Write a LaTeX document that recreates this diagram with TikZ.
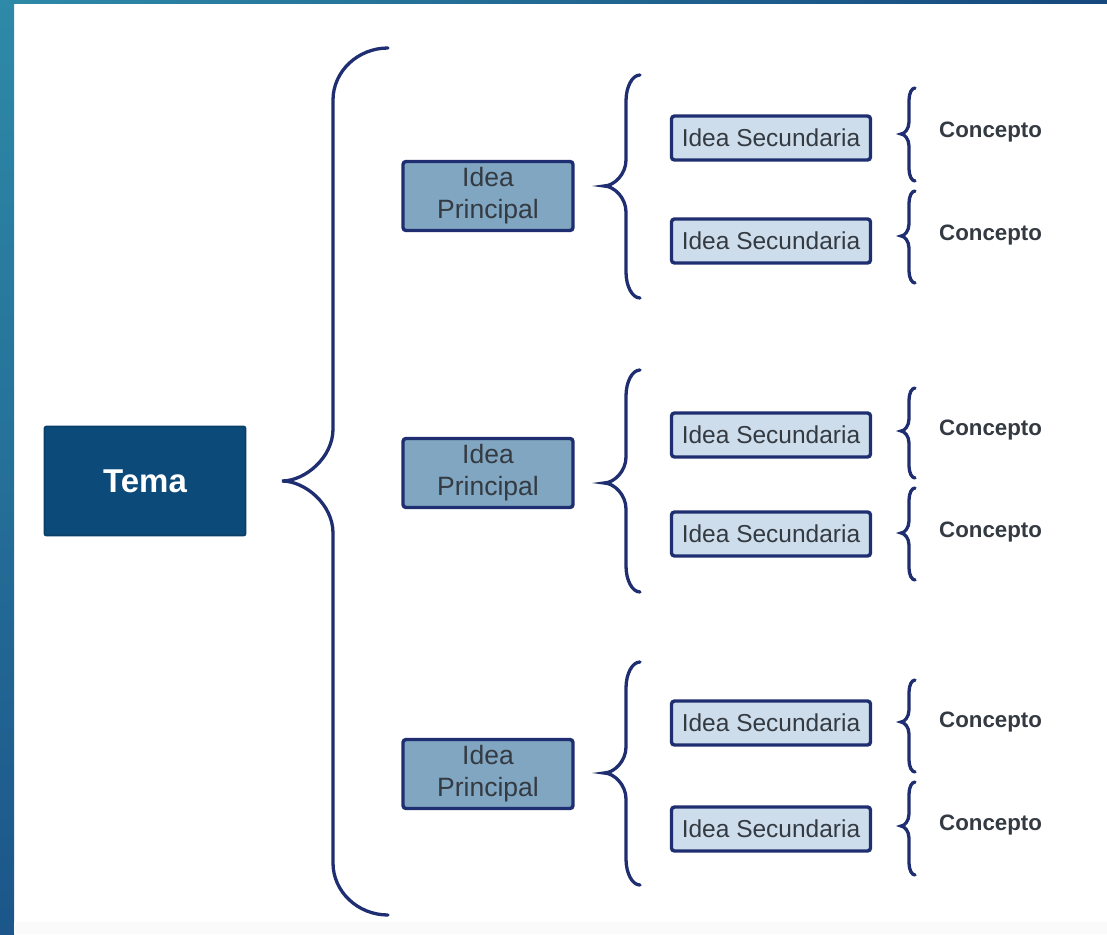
\documentclass[tikz,border=0pt]{standalone}
\usepackage{fontspec}
\setmainfont{Liberation Sans}
\usetikzlibrary{positioning}

\definecolor{marino}{RGB}{30,46,112}
\definecolor{temafill}{RGB}{12,74,122}
\definecolor{ipfill}{RGB}{128,166,193}
\definecolor{isfill}{RGB}{206,221,235}
\definecolor{texto}{RGB}{52,58,66}
\definecolor{turquesa}{RGB}{46,138,168}
\definecolor{azulmarco}{RGB}{28,86,138}
\definecolor{azulosc}{RGB}{22,72,126}

% curly brace: x ends, x vertical, x tip, y top, y tip, y bottom, reach of the curves
\newcommand{\llave}[7]{%
  \draw[llave] (#1,#4) .. controls ({#2+0.45*(#1-#2)},#4) and (#2,{#4+0.45*#7}) .. (#2,{#4+#7})
    -- (#2,{#5-#7}) .. controls (#2,{#5-0.45*#7}) and ({#3+0.45*(#2-#3)},#5) .. (#3,#5)
    .. controls ({#3+0.45*(#2-#3)},#5) and (#2,{#5+0.45*#7}) .. (#2,{#5+#7})
    -- (#2,{#6-#7}) .. controls (#2,{#6-0.45*#7}) and ({#2+0.45*(#1-#2)},#6) .. (#1,#6);}

\begin{document}
\begin{tikzpicture}[x=1pt,y=-1pt]
                % Styles
                \tikzset{
                    tema/.style={draw=temafill!85!black, line width=1.8pt, fill=temafill, rounded corners=2pt,
                        minimum width=201, minimum height=109, text=white, font=\fontsize{33}{38}\selectfont\bfseries},
                    principal/.style={draw=marino, line width=3.4pt, fill=ipfill, rounded corners=3pt,
                        minimum width=170, minimum height=69, align=center, text=texto,
                        font=\fontsize{26.5}{32}\selectfont},
                    secundaria/.style={draw=marino, line width=3.4pt, fill=isfill, rounded corners=3pt,
                        minimum width=199, minimum height=44, text=texto, font=\fontsize{24.5}{28}\selectfont},
                    concepto/.style={anchor=west, inner sep=0pt, text=texto, font=\fontsize{22.3}{26}\selectfont\bfseries},
                    llave/.style={draw=marino, line width=3.3pt, line cap=round},
                }

                % Frame
                \useasboundingbox (0,0) rectangle (1107,934);
                \shade[top color=turquesa, bottom color=azulmarco] (0,0) rectangle (14,934);
                \shade[left color=turquesa, right color=azulosc] (0,0) rectangle (1107,4);
                \fill[white!96!gray] (14,922) rectangle (1107,934);

                % Topic
                \node[tema] (tema) at (145,481) {Tema};

                % Main ideas
                \node[principal] (ipA) at (488,196) {Idea\\Principal};
                \node[principal] (ipB) at (488,473) {Idea\\Principal};
                \node[principal] (ipC) at (488,774) {Idea\\Principal};

                % Secondary ideas
                \node[secundaria] (isA1) at (771,138) {Idea Secundaria};
                \node[secundaria] (isA2) at (771,241) {Idea Secundaria};
                \node[secundaria] (isB1) at (771,435) {Idea Secundaria};
                \node[secundaria] (isB2) at (771,534) {Idea Secundaria};
                \node[secundaria] (isC1) at (771,723) {Idea Secundaria};
                \node[secundaria] (isC2) at (771,829) {Idea Secundaria};

                % Concepts
                \node[concepto] (coA1) at (939,132) {Concepto};
                \node[concepto] (coA2) at (939,235) {Concepto};
                \node[concepto] (coB1) at (939,430) {Concepto};
                \node[concepto] (coB2) at (939,532) {Concepto};
                \node[concepto] (coC1) at (939,722) {Concepto};
                \node[concepto] (coC2) at (939,825) {Concepto};

                % Braces
                \llave{388}{333}{282}{48}{481}{915}{52}
                \llave{640}{626}{604}{75}{186}{298}{26}
                \llave{640}{626}{604}{370}{483}{592}{26}
                \llave{640}{626}{604}{662}{773}{885}{26}
                \llave{915}{909}{901}{88}{134}{181}{12}
                \llave{915}{909}{901}{191}{236}{283}{12}
                \llave{915}{909}{901}{388}{431}{478}{12}
                \llave{915}{909}{901}{488}{533}{580}{12}
                \llave{915}{909}{901}{680}{722}{772}{12}
                \llave{915}{909}{901}{782}{826}{875}{12}
            \end{tikzpicture}
\end{document}
